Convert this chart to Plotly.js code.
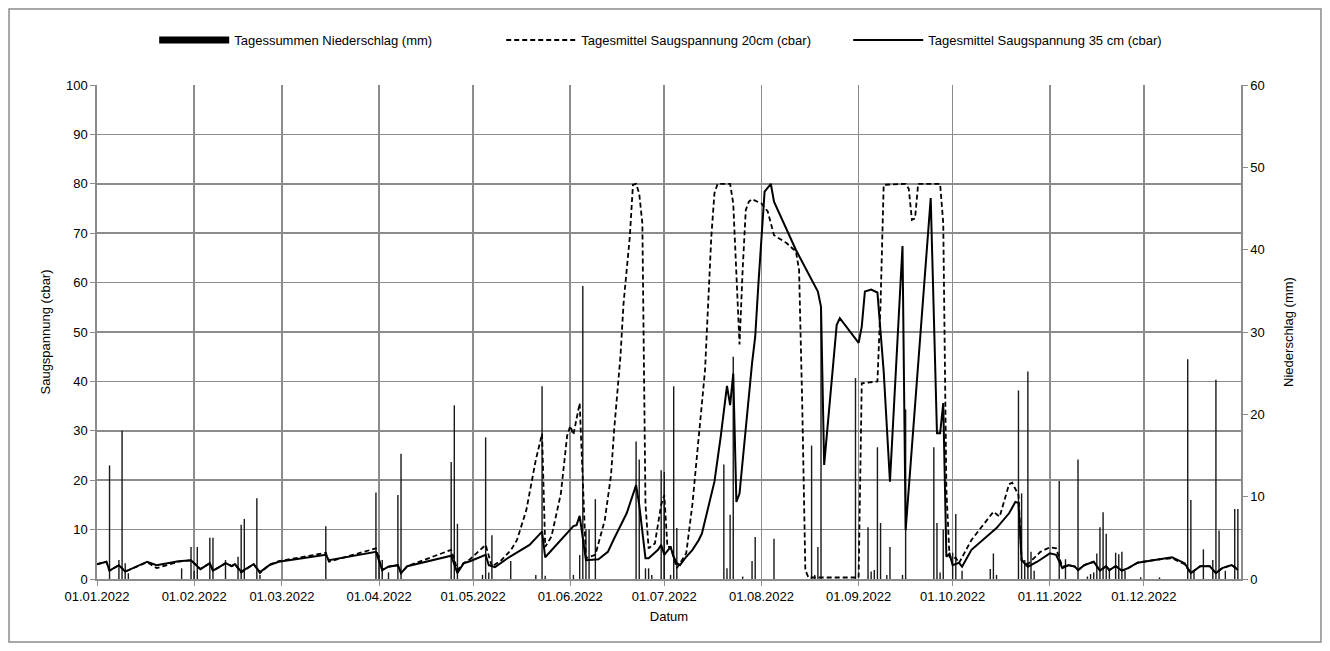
<!DOCTYPE html>
<html><head><meta charset="utf-8">
<script src="https://cdn.plot.ly/plotly-3.0.1.min.js"></script>
<style>html,body{margin:0;padding:0;background:#fff}#chart{width:1330px;height:651px}</style>
</head><body><div id="chart"></div>
<script>
const seriesNames = ['Tagessummen Niederschlag (mm)', 'Tagesmittel Saugspannung 20cm (cbar)', 'Tagesmittel Saugspannung 35 cm (cbar)'];
const monthTicks = ['2022-01-01','2022-02-01','2022-03-01','2022-04-01','2022-05-01','2022-06-01','2022-07-01','2022-08-01','2022-09-01','2022-10-01','2022-11-01','2022-12-01'];
const monthLabels = ['01.01.2022','01.02.2022','01.03.2022','01.04.2022','01.05.2022','01.06.2022','01.07.2022','01.08.2022','01.09.2022','01.10.2022','01.11.2022','01.12.2022'];

const rainDates = ['2022-01-05','2022-01-08','2022-01-09','2022-01-10','2022-01-11','2022-01-28','2022-01-31','2022-02-01','2022-02-02','2022-02-06','2022-02-07','2022-02-11','2022-02-15','2022-02-16','2022-02-17','2022-02-21','2022-02-22','2022-03-15','2022-03-31','2022-04-01','2022-04-02','2022-04-04','2022-04-07','2022-04-08','2022-04-24','2022-04-25','2022-04-26','2022-05-04','2022-05-05','2022-05-06','2022-05-07','2022-05-13','2022-05-21','2022-05-23','2022-05-24','2022-06-02','2022-06-04','2022-06-05','2022-06-06','2022-06-07','2022-06-09','2022-06-22','2022-06-23','2022-06-25','2022-06-26','2022-06-27','2022-06-30','2022-07-01','2022-07-03','2022-07-04','2022-07-05','2022-07-20','2022-07-21','2022-07-22','2022-07-23','2022-07-26','2022-07-29','2022-07-30','2022-08-05','2022-08-17','2022-08-18','2022-08-19','2022-08-20','2022-08-31','2022-09-04','2022-09-05','2022-09-06','2022-09-07','2022-09-08','2022-09-10','2022-09-11','2022-09-15','2022-09-16','2022-09-25','2022-09-26','2022-09-27','2022-09-28','2022-10-01','2022-10-02','2022-10-04','2022-10-13','2022-10-14','2022-10-15','2022-10-22','2022-10-23','2022-10-24','2022-10-25','2022-10-26','2022-10-27','2022-11-04','2022-11-06','2022-11-10','2022-11-13','2022-11-14','2022-11-15','2022-11-16','2022-11-17','2022-11-18','2022-11-19','2022-11-20','2022-11-22','2022-11-23','2022-11-24','2022-11-25','2022-11-30','2022-12-06','2022-12-15','2022-12-16','2022-12-17','2022-12-20','2022-12-23','2022-12-24','2022-12-25','2022-12-27','2022-12-30','2022-12-31'];
const rainMm = [13.8,2.3,18,1.9,0.7,1.3,3.9,1.0,3.9,5.0,5.0,2.3,2.7,6.6,7.3,9.8,0.5,6.4,10.5,2.9,2.3,0.8,10.2,15.2,14.2,21.1,6.7,0.5,17.2,0.8,5.3,2.2,0.5,23.4,0.4,0.5,2.9,35.6,6.0,6.0,9.7,16.7,14.5,1.3,1.3,0.5,13.2,13.0,0.5,23.4,6.2,13.9,1.3,7.8,27.0,0.3,2.2,5.1,4.9,16.2,0.5,3.9,32.9,24.4,6.3,0.9,1.1,16.0,6.8,0.5,3.9,0.5,20.6,16.0,6.8,0.8,6.0,3.2,7.9,1.0,1.2,3.1,0.5,22.9,10.4,2.3,25.2,3.3,1.0,11.9,2.4,14.5,0.3,0.6,0.8,3.1,6.3,8.1,5.5,1.0,3.2,3.0,3.3,1.0,0.2,0.2,26.7,9.6,1.0,3.6,2.3,24.2,5.9,1.0,8.5,8.5];

const s20Dates = ['2022-01-01','2022-01-04','2022-01-05','2022-01-08','2022-01-10','2022-01-17','2022-01-20','2022-01-27','2022-01-31','2022-02-03','2022-02-06','2022-02-07','2022-02-09','2022-02-11','2022-02-13','2022-02-14','2022-02-16','2022-02-18','2022-02-20','2022-02-22','2022-02-25','2022-02-28','2022-03-15','2022-03-16','2022-03-31','2022-04-02','2022-04-04','2022-04-07','2022-04-08','2022-04-10','2022-04-24','2022-04-26','2022-04-28','2022-04-30','2022-05-05','2022-05-07','2022-05-10','2022-05-13','2022-05-15','2022-05-18','2022-05-21','2022-05-23','2022-05-24','2022-05-26','2022-05-29','2022-05-31','2022-06-01','2022-06-02','2022-06-04','2022-06-06','2022-06-09','2022-06-12','2022-06-14','2022-06-15','2022-06-17','2022-06-18','2022-06-20','2022-06-21','2022-06-22','2022-06-23','2022-06-24','2022-06-25','2022-06-26','2022-06-28','2022-06-30','2022-07-01','2022-07-02','2022-07-03','2022-07-04','2022-07-05','2022-07-08','2022-07-10','2022-07-11','2022-07-14','2022-07-16','2022-07-17','2022-07-18','2022-07-22','2022-07-23','2022-07-24','2022-07-25','2022-07-26','2022-07-27','2022-07-28','2022-07-29','2022-08-01','2022-08-03','2022-08-05','2022-08-09','2022-08-12','2022-08-13','2022-08-14','2022-08-15','2022-08-16','2022-09-01','2022-09-02','2022-09-07','2022-09-08','2022-09-09','2022-09-16','2022-09-17','2022-09-18','2022-09-19','2022-09-20','2022-09-27','2022-09-28','2022-09-29','2022-09-30','2022-10-01','2022-10-02','2022-10-03','2022-10-07','2022-10-11','2022-10-14','2022-10-16','2022-10-19','2022-10-20','2022-10-22','2022-10-23','2022-10-25','2022-10-29','2022-11-01','2022-11-03','2022-11-05','2022-11-07','2022-11-09','2022-11-10','2022-11-12','2022-11-15','2022-11-17','2022-11-19','2022-11-20','2022-11-22','2022-11-24','2022-11-26','2022-11-29','2022-12-06','2022-12-10','2022-12-14','2022-12-16','2022-12-19','2022-12-22','2022-12-24','2022-12-26','2022-12-29','2022-12-30','2022-12-31'];
const s20Cbar = [3.0,3.5,1.7,2.8,1.5,3.4,2.2,3.5,3.8,2.0,3.2,1.7,2.4,3.2,2.6,3.0,1.3,2.2,3.0,1.2,2.9,3.6,5.3,3.5,6.2,1.8,2.5,2.8,1.2,2.6,5.9,1.8,3.2,4.0,6.9,2.5,3.8,5.8,7.9,14.0,24.1,29.4,6.5,8.6,17.3,29.0,31.0,29.2,35.6,4.2,4.9,11.9,21.0,30.2,45.0,55.8,69.3,79.8,80.0,78.0,72.0,15.0,6.2,7.2,15.0,17.0,6.5,6.5,4.5,2.2,5.2,15.3,22.1,42.3,69.3,78.1,80.0,80.0,76.0,60.0,47.5,62.6,74.7,76.4,76.9,76.0,74.4,69.6,68.0,66.3,62.6,35.6,1.8,0.3,0.3,39.6,40.0,55.8,79.8,80.0,79.0,72.7,73.0,80.0,80.0,72.0,18.0,4.5,4.2,4.3,3.2,7.9,11.3,13.6,12.6,19.2,19.5,17.0,3.8,3.0,5.5,6.4,6.2,2.5,2.8,2.5,1.8,2.8,3.5,1.7,2.6,1.8,2.6,1.7,2.2,3.3,4.0,4.2,3.0,1.2,2.6,2.6,1.2,2.2,2.8,2.4,1.8];

const s35Dates = ['2022-01-01','2022-01-04','2022-01-05','2022-01-08','2022-01-10','2022-01-17','2022-01-20','2022-01-27','2022-01-31','2022-02-03','2022-02-06','2022-02-07','2022-02-09','2022-02-11','2022-02-13','2022-02-14','2022-02-16','2022-02-18','2022-02-20','2022-02-22','2022-02-25','2022-02-28','2022-03-15','2022-03-16','2022-03-31','2022-04-02','2022-04-04','2022-04-07','2022-04-08','2022-04-10','2022-04-24','2022-04-26','2022-04-28','2022-04-30','2022-05-05','2022-05-06','2022-05-08','2022-05-12','2022-05-19','2022-05-23','2022-05-24','2022-06-02','2022-06-03','2022-06-04','2022-06-06','2022-06-10','2022-06-13','2022-06-15','2022-06-18','2022-06-19','2022-06-22','2022-06-23','2022-06-25','2022-06-26','2022-06-29','2022-06-30','2022-07-01','2022-07-03','2022-07-04','2022-07-05','2022-07-06','2022-07-08','2022-07-10','2022-07-12','2022-07-13','2022-07-16','2022-07-17','2022-07-19','2022-07-21','2022-07-22','2022-07-23','2022-07-24','2022-07-25','2022-07-29','2022-07-30','2022-07-31','2022-08-02','2022-08-04','2022-08-05','2022-08-12','2022-08-19','2022-08-20','2022-08-21','2022-08-25','2022-08-26','2022-09-01','2022-09-02','2022-09-03','2022-09-05','2022-09-07','2022-09-09','2022-09-11','2022-09-15','2022-09-16','2022-09-24','2022-09-26','2022-09-27','2022-09-28','2022-09-29','2022-09-30','2022-10-01','2022-10-03','2022-10-04','2022-10-07','2022-10-15','2022-10-19','2022-10-21','2022-10-22','2022-10-23','2022-10-25','2022-10-28','2022-11-01','2022-11-03','2022-11-05','2022-11-07','2022-11-09','2022-11-10','2022-11-12','2022-11-15','2022-11-17','2022-11-19','2022-11-20','2022-11-22','2022-11-24','2022-11-26','2022-11-29','2022-12-06','2022-12-10','2022-12-14','2022-12-16','2022-12-19','2022-12-22','2022-12-24','2022-12-26','2022-12-29','2022-12-30','2022-12-31'];
const s35Cbar = [3.0,3.5,1.7,2.8,1.5,3.5,2.8,3.6,3.8,2.0,3.2,1.7,2.4,3.2,2.6,3.0,1.5,2.2,3.0,1.4,2.8,3.5,4.9,3.8,5.5,1.8,2.5,2.8,1.2,2.6,4.7,1.2,3.2,3.6,4.9,2.8,2.4,4.2,6.9,9.6,4.4,10.7,10.9,12.8,3.8,4.0,5.5,8.2,11.9,13.3,19.0,15.0,4.2,4.2,5.9,6.9,4.9,6.5,4.5,3.2,2.8,4.5,5.9,7.9,9.2,16.7,19.7,28.8,39.1,35.2,41.6,15.6,17.3,43.7,49.0,59.5,78.4,80.0,76.4,66.6,58.2,55.1,23.1,51.4,52.8,47.8,51.1,58.2,58.6,58.0,42.0,19.7,67.4,9.9,77.1,29.5,29.5,35.6,4.5,5.1,2.8,3.3,2.5,5.9,10.3,13.3,15.6,15.4,3.8,2.5,3.5,5.2,4.9,2.2,2.8,2.5,1.8,2.8,3.5,1.7,2.6,1.8,2.6,1.7,2.2,3.3,4.0,4.4,3.2,1.2,2.6,2.6,1.2,2.2,2.8,2.4,1.8];

const DAY_MS = 86400000;
const font = {family: '"Liberation Sans", Arial, sans-serif', size: 13, color: '#000'};
const gridCol = '#8c8c8c';

const traces = [
  {type: 'scatter', mode: 'lines', x: [null], y: [null], name: seriesNames[0], yaxis: 'y',
   line: {color: '#000', width: 7}, hoverinfo: 'skip'},
  {type: 'bar', x: rainDates, y: rainMm, yaxis: 'y', name: seriesNames[0], showlegend: false,
   width: 0.45 * DAY_MS, marker: {color: '#1a1a1a', line: {width: 0}}},
  {type: 'scatter', mode: 'lines', x: s20Dates, y: s20Cbar, yaxis: 'y2', name: seriesNames[1],
   line: {color: '#000', width: 1.8, dash: '5px,3px'}},
  {type: 'scatter', mode: 'lines', x: s35Dates, y: s35Cbar, yaxis: 'y2', name: seriesNames[2],
   line: {color: '#000', width: 2}}
];

const layout = {
  width: 1330, height: 651,
  margin: {l: 97, r: 89, t: 85, b: 72},
  paper_bgcolor: '#fff', plot_bgcolor: '#fff',
  font: font,
  showlegend: true,
  legend: {orientation: 'h', x: 0.05, xanchor: 'left', y: 1.091, yanchor: 'middle',
    entrywidth: 262, entrywidthmode: 'pixels', itemwidth: 70, traceorder: 'normal',
    font: font, bgcolor: 'rgba(0,0,0,0)'},
  xaxis: {type: 'date', range: ['2022-01-01', '2023-01-01'], tickmode: 'array',
    tickvals: monthTicks, ticktext: monthLabels, showgrid: true, gridcolor: gridCol, gridwidth: 1.6,
    showline: true, linecolor: gridCol, linewidth: 1.6, ticks: 'outside', ticklen: 5, tickcolor: gridCol,
    zeroline: false, tickfont: font, title: {text: 'Datum', font: font, standoff: 8}},
  yaxis: {side: 'right', range: [0, 60], dtick: 10, tick0: 0, showgrid: false, zeroline: false,
    showline: true, linecolor: gridCol, linewidth: 1.6, ticks: 'outside', ticklen: 5, tickcolor: gridCol,
    tickfont: font, title: {text: 'Niederschlag (mm)', font: font, standoff: 20}},
  yaxis2: {overlaying: 'y', side: 'left', anchor: 'x', range: [0, 100], dtick: 10, tick0: 0,
    showgrid: true, gridcolor: gridCol, gridwidth: 1.6, zeroline: false,
    showline: true, linecolor: gridCol, linewidth: 1.6, ticks: 'outside', ticklen: 5, tickcolor: gridCol,
    tickfont: font, title: {text: 'Saugspannung (cbar)', font: font, standoff: 12}},
  shapes: [{type: 'rect', xref: 'paper', yref: 'paper', x0: -0.0769, x1: 1.0699, y0: -0.1275, y1: 1.1538,
    line: {color: gridCol, width: 1.5}, fillcolor: 'rgba(0,0,0,0)', layer: 'below'}]
};

Plotly.newPlot('chart', traces, layout, {displayModeBar: false, staticPlot: true});
</script>
</body></html>
